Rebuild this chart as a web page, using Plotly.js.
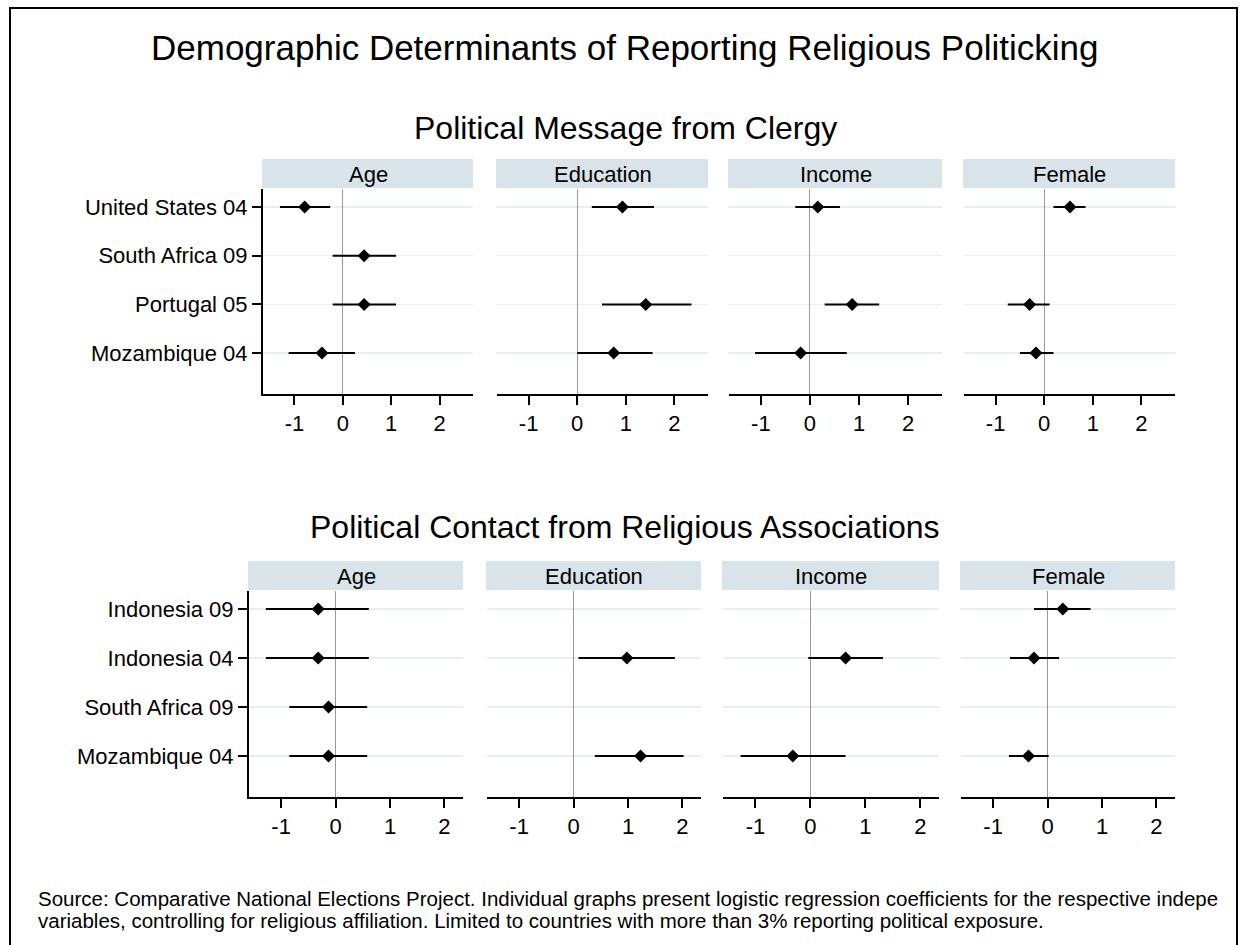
<!DOCTYPE html>
<html>
<head>
<meta charset="utf-8">
<script src="https://cdn.plot.ly/plotly-3.0.1.min.js"></script>
<style>html,body{margin:0;padding:0;background:#fff;}#chart{width:1246px;height:945px;}</style>
</head>
<body>
<div id="chart"></div>
<script>
// ---------------- DATA ----------------
const mainTitle = 'Demographic Determinants of Reporting Religious Politicking';
const rowTitles = ['Political Message from Clergy', 'Political Contact from Religious Associations'];
const panelVars = ['Age', 'Education', 'Income', 'Female'];
const xTickVals = [-1, 0, 1, 2];
const xTickText = ['-1', '0', '1', '2'];

const clergyCountries = ['United States 04', 'South Africa 09', 'Portugal 05', 'Mozambique 04'];
const clergyAgeCoef = [-0.79, 0.44, 0.44, -0.43];
const clergyAgeLo   = [-1.30, -0.21, -0.21, -1.12];
const clergyAgeHi   = [-0.26, 1.10, 1.10, 0.25];
const clergyEduCoef = [0.93, null, 1.41, 0.75];
const clergyEduLo   = [0.30, null, 0.51, 0.00];
const clergyEduHi   = [1.58, null, 2.35, 1.55];
const clergyIncCoef = [0.16, null, 0.86, -0.19];
const clergyIncLo   = [-0.30, null, 0.30, -1.12];
const clergyIncHi   = [0.61, null, 1.41, 0.75];
const clergyFemCoef = [0.53, null, -0.30, -0.17];
const clergyFemLo   = [0.19, null, -0.75, -0.50];
const clergyFemHi   = [0.85, null, 0.11, 0.19];

const contactCountries = ['Indonesia 09', 'Indonesia 04', 'South Africa 09', 'Mozambique 04'];
const contactAgeCoef = [-0.32, -0.32, -0.13, -0.13];
const contactAgeLo   = [-1.28, -1.28, -0.85, -0.85];
const contactAgeHi   = [0.61, 0.61, 0.58, 0.58];
const contactEduCoef = [null, 0.98, null, 1.23];
const contactEduLo   = [null, 0.09, null, 0.39];
const contactEduHi   = [null, 1.86, null, 2.02];
const contactIncCoef = [null, 0.64, null, -0.32];
const contactIncLo   = [null, -0.04, null, -1.27];
const contactIncHi   = [null, 1.32, null, 0.64];
const contactFemCoef = [0.28, -0.25, null, -0.35];
const contactFemLo   = [-0.25, -0.69, null, -0.71];
const contactFemHi   = [0.79, 0.21, null, 0.02];

const sourceNote1 = 'Source: Comparative National Elections Project. Individual graphs present logistic regression coefficients for the respective indepe';
const sourceNote2 = 'variables, controlling for religious affiliation. Limited to countries with more than 3% reporting political exposure.';

// ---------------- LAYOUT GEOMETRY (pixels) ----------------
const W = 1246, H = 945;
const FONT = 'Arial, "Liberation Sans", Helvetica, sans-serif';
const px = v => v / W;
const py = v => 1 - v / H;

const rows = [
  { countries: clergyCountries,
    panels: [[clergyAgeCoef, clergyAgeLo, clergyAgeHi], [clergyEduCoef, clergyEduLo, clergyEduHi],
             [clergyIncCoef, clergyIncLo, clergyIncHi], [clergyFemCoef, clergyFemLo, clergyFemHi]],
    xs: [[263, 473], [497, 708], [729, 942], [964, 1175]],
    plotTop: 189, plotBot: 394, stripTop: 159, titleY: 128,
    xrange: [-1.65, 2.69] },
  { countries: contactCountries,
    panels: [[contactAgeCoef, contactAgeLo, contactAgeHi], [contactEduCoef, contactEduLo, contactEduHi],
             [contactIncCoef, contactIncLo, contactIncHi], [contactFemCoef, contactFemLo, contactFemHi]],
    xs: [[249, 463], [487, 701], [723, 939], [961, 1175]],
    plotTop: 591, plotBot: 797, stripTop: 561, titleY: 527,
    xrange: [-1.59, 2.34] }
];

const traces = [];
const layout = {
  width: W, height: H,
  margin: { l: 0, r: 0, t: 0, b: 0, pad: 0 },
  paper_bgcolor: '#ffffff', plot_bgcolor: '#ffffff',
  showlegend: false,
  font: { family: FONT, color: '#000000', size: 22 },
  shapes: [], annotations: []
};

let k = 0;
rows.forEach((row, r) => {
  row.panels.forEach((p, c) => {
    k += 1;
    const xa = 'xaxis' + (k === 1 ? '' : k), ya = 'yaxis' + (k === 1 ? '' : k);
    const xr = 'x' + (k === 1 ? '' : k), yr = 'y' + (k === 1 ? '' : k);
    const [coef, lo, hi] = p;
    traces.push({
      type: 'scatter', mode: 'markers', xaxis: xr, yaxis: yr,
      x: coef, y: row.countries,
      error_x: { type: 'data', symmetric: false,
        array: coef.map((v, i) => v === null ? null : hi[i] - v),
        arrayminus: coef.map((v, i) => v === null ? null : v - lo[i]),
        color: '#000000', thickness: 2, width: 0 },
      marker: { symbol: 'diamond', size: 10, color: '#000000' },
      cliponaxis: false, hoverinfo: 'skip'
    });
    const [x0, x1] = row.xs[c];
    layout[xa] = {
      domain: [px(x0), px(x1)], anchor: yr, range: row.xrange,
      tickmode: 'array', tickvals: xTickVals, ticktext: xTickText,
      ticks: 'outside', ticklen: 9, tickwidth: 2, tickcolor: '#000000',
      showline: true, linecolor: '#000000', linewidth: 2,
      showgrid: false, zeroline: true, zerolinecolor: '#9a9a9a', zerolinewidth: 1,
      tickfont: { size: 22, color: '#000000', family: FONT }, fixedrange: true
    };
    layout[ya] = {
      domain: [py(row.plotBot), py(row.plotTop)], anchor: xr,
      type: 'category', categoryorder: 'array', categoryarray: row.countries,
      range: [3.84, -0.37],
      showgrid: true, gridcolor: '#e7eff1', gridwidth: 1.5,
      zeroline: false, fixedrange: true,
      showline: c === 0, linecolor: '#000000', linewidth: 2,
      ticks: c === 0 ? 'outside' : '', ticklen: 9, tickwidth: 2, tickcolor: '#000000',
      showticklabels: c === 0,
      tickfont: { size: 22, color: '#000000', family: FONT }
    };
    // strip
    layout.shapes.push({ type: 'rect', xref: 'paper', yref: 'paper',
      x0: px(x0 - 1), x1: px(x1), y0: py(row.plotTop - 1), y1: py(row.stripTop),
      fillcolor: '#d9e4ea', line: { width: 0 }, layer: 'below' });
    layout.annotations.push({ xref: 'paper', yref: 'paper',
      x: px((x0 + x1) / 2), y: py((row.stripTop + row.plotTop) / 2),
      xanchor: 'center', yanchor: 'middle', showarrow: false,
      text: panelVars[c], font: { size: 22, color: '#000000', family: FONT } });
  });
  layout.annotations.push({ xref: 'paper', yref: 'paper', x: px(625), y: py(row.titleY),
    xanchor: 'center', yanchor: 'middle', showarrow: false,
    text: rowTitles[r], font: { size: 32, color: '#000000', family: FONT } });
});

layout.annotations.push({ xref: 'paper', yref: 'paper', x: px(624), y: py(47),
  xanchor: 'center', yanchor: 'middle', showarrow: false,
  text: mainTitle, font: { size: 35, color: '#000000', family: FONT } });
layout.annotations.push({ xref: 'paper', yref: 'paper', x: px(36), y: py(898),
  xanchor: 'left', yanchor: 'middle', showarrow: false,
  text: sourceNote1, font: { size: 20.5, color: '#000000', family: FONT } });
layout.annotations.push({ xref: 'paper', yref: 'paper', x: px(36), y: py(920),
  xanchor: 'left', yanchor: 'middle', showarrow: false,
  text: sourceNote2, font: { size: 20.5, color: '#000000', family: FONT } });

// outer frame
layout.shapes.push({ type: 'rect', xref: 'paper', yref: 'paper',
  x0: px(10), x1: px(1237), y0: py(960), y1: py(8),
  line: { color: '#000000', width: 2 }, fillcolor: 'rgba(0,0,0,0)', layer: 'above' });

Plotly.newPlot('chart', traces, layout, { staticPlot: true, displayModeBar: false });
</script>
</body>
</html>
